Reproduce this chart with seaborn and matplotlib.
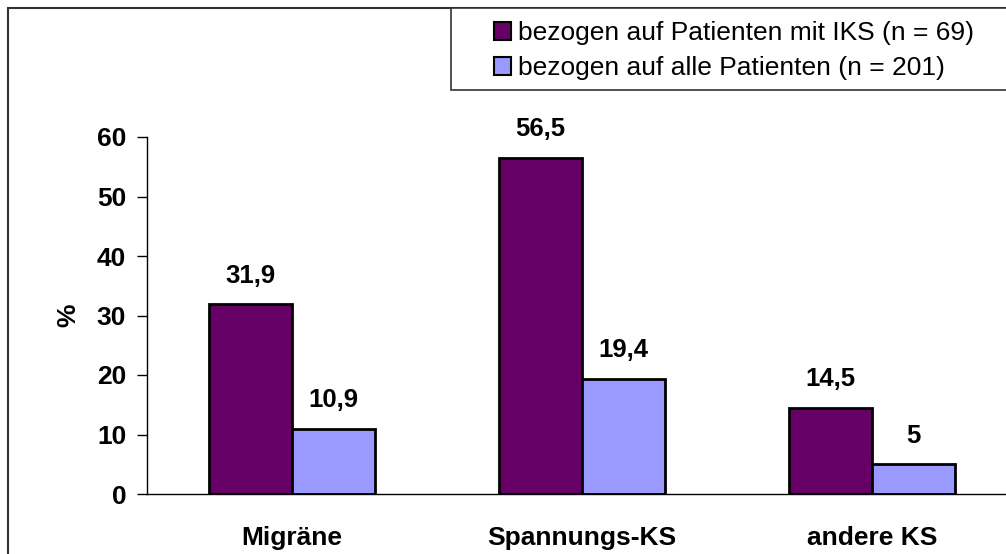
import pandas as pd
import matplotlib.pyplot as plt
import seaborn as sns
from matplotlib.patches import Rectangle

categories = ['Migräne', 'Spannungs-KS', 'andere KS']
series = ['bezogen auf Patienten mit IKS (n = 69)', 'bezogen auf alle Patienten (n = 201)']
values_iks = [31.9, 56.5, 14.5]
values_alle = [10.9, 19.4, 5]
colors = ['#660066', '#9999FF']
y_ticks = [0, 10, 20, 30, 40, 50, 60]

df = pd.DataFrame({
    'Kategorie': categories * 2,
    'Gruppe': [series[0]] * 3 + [series[1]] * 3,
    'Prozent': values_iks + values_alle,
})

sns.set_style('white')
plt.rcParams['font.family'] = ['Liberation Sans', 'DejaVu Sans']
plt.rcParams['text.color'] = 'black'
plt.rcParams['axes.labelcolor'] = 'black'
plt.rcParams['xtick.color'] = 'black'
plt.rcParams['ytick.color'] = 'black'

W, H = 1006, 554
fig = plt.figure(figsize=(W / 100, H / 100), dpi=100)
ax = fig.add_axes([147 / W, 60 / H, 870 / W, 357 / H])

sns.barplot(data=df, x='Kategorie', y='Prozent', hue='Gruppe', palette=colors,
            width=0.573, edgecolor='black', linewidth=2, saturation=1,
            ax=ax, legend=False)

for cont in ax.containers:
    labels = [f'{b.get_height():g}'.replace('.', ',') for b in cont]
    ax.bar_label(cont, labels=labels, padding=12, fontsize=18.5, fontweight='bold',
                 color='black')

ax.set_xlim(-0.5, 2.5)
ax.set_ylim(0, 60)
ax.set_yticks(y_ticks)
ax.set_yticklabels([str(t) for t in y_ticks], fontsize=19, fontweight='bold')
ax.set_xticks([0, 1, 2])
ax.set_xticklabels(categories, fontsize=19, fontweight='bold')
ax.set_xticks([-0.5, 0.5, 1.5, 2.5], minor=True)
ax.tick_params(axis='x', which='major', length=0, pad=23)
ax.tick_params(axis='x', which='minor', length=7, width=1, color='black', direction='out')
ax.tick_params(axis='y', length=7, width=1, color='black', direction='out', pad=8, left=True)
ax.set_xlabel('')
ax.set_ylabel('%', fontsize=19, fontweight='bold')
ax.yaxis.set_label_coords(-0.077, 0.5)

for s in ['top', 'right']:
    ax.spines[s].set_visible(False)
for s in ['left', 'bottom']:
    ax.spines[s].set_color('black')
    ax.spines[s].set_linewidth(1)

# outer chart frame and legend box
fig.patches.append(Rectangle((8 / W, -0.1), 1.1, 1 - 8 / H + 0.1, transform=fig.transFigure,
                             fill=False, edgecolor='#333333', linewidth=1.5))
fig.patches.append(Rectangle((451 / W, 1 - 90 / H), 0.6, 82 / H, transform=fig.transFigure,
                             facecolor='white', edgecolor='#333333', linewidth=1.2))

handles = [Rectangle((0, 0), 1, 1, facecolor=c, edgecolor='black', linewidth=1.5) for c in colors]
fig.legend(handles, series, loc='upper left', bbox_to_anchor=(494 / W, 1 - 21 / H),
           frameon=False, fontsize=19, handlelength=0.65, handleheight=0.65,
           handletextpad=0.25, labelspacing=0.42, borderaxespad=0, borderpad=0)

fig.savefig('out.png', dpi=100)
